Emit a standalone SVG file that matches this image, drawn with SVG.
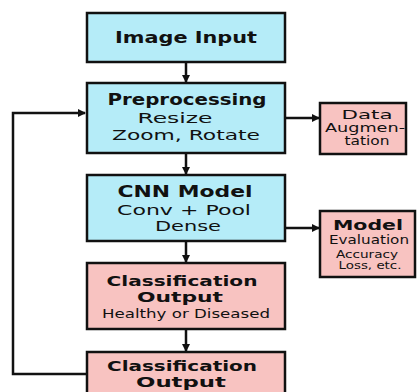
<svg xmlns="http://www.w3.org/2000/svg" width="417" height="392" viewBox="0 0 417 392">
<style>
.blue{fill:#b5ecf8;stroke:#111;stroke-width:2.5}
.pink{fill:#f8c3c1;stroke:#111;stroke-width:2.5}
text{font-family:"DejaVu Sans",Verdana,sans-serif;fill:#111;text-anchor:middle}
.t{font-weight:bold;font-size:15px}
.t2{font-weight:bold;font-size:13.5px}
.s{font-size:13.5px}
.st{font-weight:bold;font-size:13.5px}
.ss{font-size:11.5px}
.sx{font-size:10px}
.c{fill:none;stroke:#111;stroke-width:2.5}
</style>
<defs>
<marker id="ah" markerWidth="8" markerHeight="8" refX="7" refY="4" orient="auto" markerUnits="userSpaceOnUse">
<path d="M0,0 L8,4 L0,8 Z" fill="#111"/>
</marker>
</defs>
<rect width="417" height="392" fill="#fff"/>
<g id="connectors">
<line class="c" x1="186" y1="62" x2="186" y2="82" marker-end="url(#ah)"/>
<line class="c" x1="186" y1="153" x2="186" y2="174" marker-end="url(#ah)"/>
<line class="c" x1="186" y1="241" x2="186" y2="262" marker-end="url(#ah)"/>
<line class="c" x1="186" y1="329" x2="186" y2="351" marker-end="url(#ah)"/>
<line class="c" x1="285" y1="118" x2="319" y2="118" marker-end="url(#ah)"/>
<line class="c" x1="285" y1="228" x2="319" y2="228" marker-end="url(#ah)"/>
<polyline class="c" points="87,374 13,374 13,113 85,113" marker-end="url(#ah)"/>
</g>
<g id="image-input">
<rect class="blue" x="87" y="13" width="198" height="49"/>
<text class="t" x="186" y="43" textLength="142" lengthAdjust="spacingAndGlyphs">Image Input</text>
</g>
<g id="preprocessing">
<rect class="blue" x="87" y="83" width="198" height="70"/>
<text class="t" x="187" y="105" textLength="159" lengthAdjust="spacingAndGlyphs">Preprocessing</text>
<text class="s" x="175" y="123" textLength="75" lengthAdjust="spacingAndGlyphs">Resize</text>
<text class="s" x="186" y="140" textLength="148" lengthAdjust="spacingAndGlyphs">Zoom, Rotate</text>
</g>
<g id="data-augmentation">
<rect class="pink" x="320" y="103" width="86" height="51"/>
<text class="ss" x="367" y="119" textLength="51" lengthAdjust="spacingAndGlyphs">Data</text>
<text class="ss" x="365" y="132" textLength="80" lengthAdjust="spacingAndGlyphs">Augmen-</text>
<text class="ss" x="367" y="145" textLength="45" lengthAdjust="spacingAndGlyphs">tation</text>
</g>
<g id="cnn-model">
<rect class="blue" x="87" y="175" width="198" height="66"/>
<text class="t" x="185" y="197" textLength="135" lengthAdjust="spacingAndGlyphs">CNN Model</text>
<text class="s" x="184" y="215" textLength="134" lengthAdjust="spacingAndGlyphs">Conv + Pool</text>
<text class="s" x="188" y="231" textLength="66" lengthAdjust="spacingAndGlyphs">Dense</text>
</g>
<g id="model-evaluation">
<rect class="pink" x="320" y="211" width="95" height="66"/>
<text class="st" x="368" y="230" textLength="70" lengthAdjust="spacingAndGlyphs">Model</text>
<text class="ss" x="369" y="244" textLength="80" lengthAdjust="spacingAndGlyphs">Evaluation</text>
<text class="sx" x="367" y="258" textLength="62" lengthAdjust="spacingAndGlyphs">Accuracy</text>
<text class="sx" x="370" y="269" textLength="63" lengthAdjust="spacingAndGlyphs">Loss, etc.</text>
</g>
<g id="classification-output-1">
<rect class="pink" x="87" y="263" width="198" height="66"/>
<text class="t2" x="182" y="286" textLength="151" lengthAdjust="spacingAndGlyphs">Classification</text>
<text class="t2" x="180" y="302" textLength="86" lengthAdjust="spacingAndGlyphs">Output</text>
<text class="ss" x="186" y="318" textLength="168" lengthAdjust="spacingAndGlyphs">Healthy or Diseased</text>
</g>
<g id="classification-output-2">
<rect class="pink" x="87" y="352" width="198" height="50"/>
<text class="t2" x="182" y="371" textLength="150" lengthAdjust="spacingAndGlyphs">Classification</text>
<text class="t2" x="181" y="387" textLength="90" lengthAdjust="spacingAndGlyphs">Output</text>
</g>
</svg>
